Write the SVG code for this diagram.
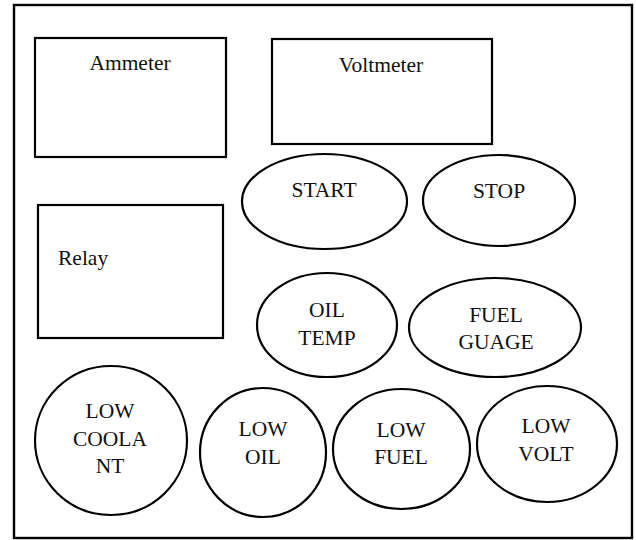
<svg xmlns="http://www.w3.org/2000/svg" width="636" height="540" viewBox="0 0 636 540">
<style>
.s{fill:#fff;stroke:#000;stroke-width:2.2}
.t{font-family:'Liberation Serif','Times New Roman',serif;font-size:21.5px;fill:#111}
.c{text-anchor:middle}
</style>
<rect x="0" y="0" width="636" height="540" fill="#fff"/>
<rect id="frame" x="14" y="5" width="618" height="533" fill="none" stroke="#000" stroke-width="2.4"/>
<g id="ammeter"><rect class="s" x="35" y="38" width="191" height="119"/><text class="t c" x="130" y="70">Ammeter</text></g>
<g id="voltmeter"><rect class="s" x="272" y="39" width="220" height="105"/><text class="t c" x="381" y="72">Voltmeter</text></g>
<g id="relay"><rect class="s" x="38" y="205" width="185" height="133"/><text class="t" x="58" y="265">Relay</text></g>
<g id="start"><ellipse class="s" cx="324.5" cy="201.5" rx="82.5" ry="47.5"/><text class="t c" x="324" y="197">START</text></g>
<g id="stop"><ellipse class="s" cx="499" cy="200.5" rx="76" ry="45.5"/><text class="t c" x="499" y="198">STOP</text></g>
<g id="oiltemp"><ellipse class="s" cx="327" cy="325" rx="70" ry="52"/><text class="t c" x="327" y="317">OIL</text><text class="t c" x="327" y="345">TEMP</text></g>
<g id="fuelguage"><ellipse class="s" cx="495" cy="327.5" rx="86" ry="49.5"/><text class="t c" x="496" y="322">FUEL</text><text class="t c" x="496" y="349">GUAGE</text></g>
<g id="lowcoolant"><ellipse class="s" cx="111" cy="440.5" rx="76" ry="74.5"/><text class="t c" x="110" y="418">LOW</text><text class="t c" x="110" y="446">COOLA</text><text class="t c" x="110" y="473">NT</text></g>
<g id="lowoil"><ellipse class="s" cx="263" cy="452.5" rx="63" ry="64.5"/><text class="t c" x="263" y="436">LOW</text><text class="t c" x="263" y="464">OIL</text></g>
<g id="lowfuel"><ellipse class="s" cx="401.5" cy="449" rx="68.5" ry="60"/><text class="t c" x="401" y="437">LOW</text><text class="t c" x="401" y="464">FUEL</text></g>
<g id="lowvolt"><ellipse class="s" cx="547" cy="444" rx="70" ry="58"/><text class="t c" x="546" y="433">LOW</text><text class="t c" x="546" y="461">VOLT</text></g>
<g id="connectors"></g>
</svg>
